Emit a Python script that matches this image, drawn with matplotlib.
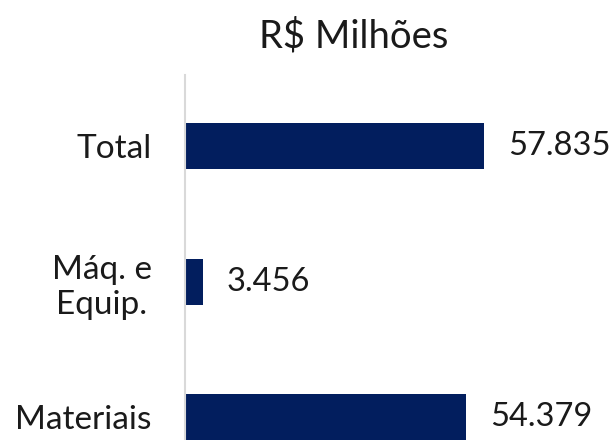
import matplotlib.pyplot as plt

# Dados (R$ milhões)
categorias = ["Materiais", "Máq. e\nEquip.", "Total"]
valores = [54379, 3456, 57835]
rotulos = ["54.379", "3.456", "57.835"]

plt.rcParams['font.family'] = ['Lato', 'DejaVu Sans']

fig = plt.figure(figsize=(6.11, 4.4), dpi=100)
# eixo: x de 185 a ~611 px, y de 75 a 440 px
ax = fig.add_axes([185 / 611, 0, (611 - 185) / 611, (440 - 75) / 440])

y = list(range(len(categorias)))
ax.barh(y, valores, height=0.34, color="#021E5E")
ax.set_ylim(-0.166, 2.524)
ax.set_xlim(0, 57835 * 426 / 299)

for yi, v, r in zip(y, valores, rotulos):
    ax.annotate(r, (v, yi), xytext=(17, 0), textcoords="offset points",
                va="center", ha="left", fontsize=23.5, color="#1a1a1a")

ax.set_yticks(y)
ax.set_yticklabels(categorias, fontsize=24, color="#1a1a1a",
                   multialignment="center")
ax.tick_params(axis="y", length=0, pad=24)
ax.set_xticks([])
for s in ["top", "right", "bottom"]:
    ax.spines[s].set_visible(False)
ax.spines["left"].set_color("#d9d9d9")
ax.spines["left"].set_linewidth(1.5)

fig.text(354 / 611, 1 - 47 / 440, "R$ Milhões", ha="center", va="baseline",
         fontsize=27.5, color="#1a1a1a")

fig.savefig("out.png", dpi=100)
